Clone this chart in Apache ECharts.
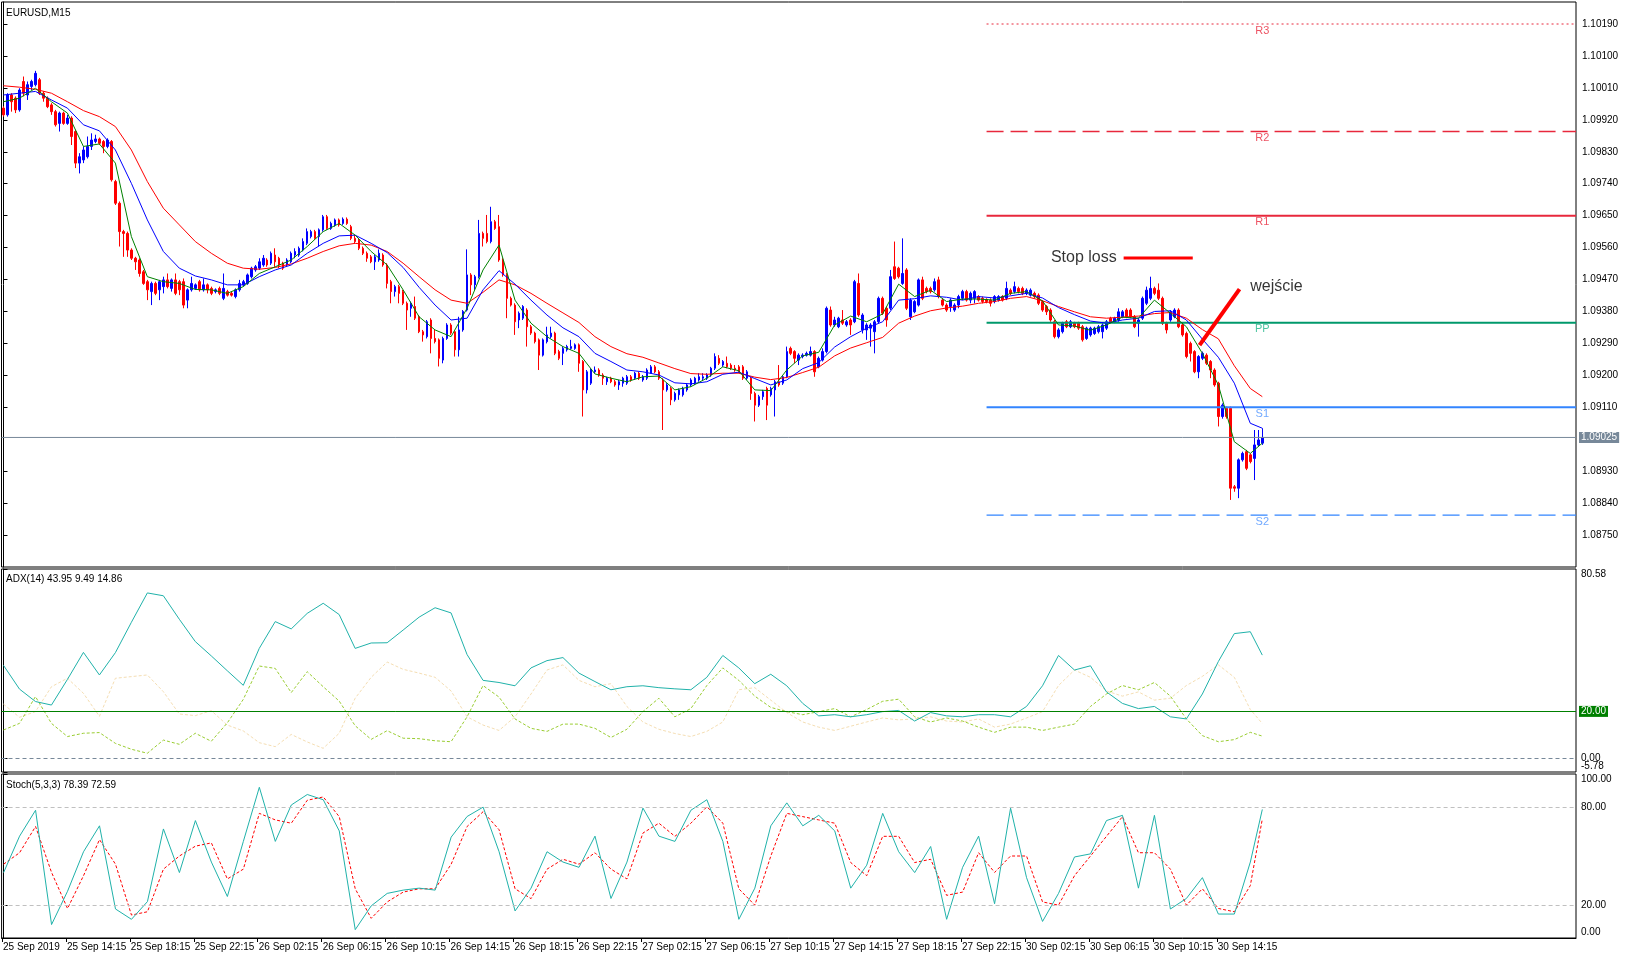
<!DOCTYPE html>
<html>
<head>
<meta charset="utf-8">
<script src="https://cdn.jsdelivr.net/npm/echarts@6/dist/echarts.min.js"></script>
<style>
html, body { margin: 0; padding: 0; background: #fff; }
#chart { width: 1629px; height: 959px; }
</style>
</head>
<body>
<div id="chart"></div>
<script>
// EURUSD M15, 25 Sep 10:15 .. 30 Sep 16:45 -- [open, close, low, high]
var candles = [
[1.09953,1.09934,1.09929,1.09958],[1.09934,1.09990,1.09929,1.09995],[1.09990,1.09971,1.09943,1.09995],[1.09981,1.09948,1.09939,1.09986],
[1.09948,1.10004,1.09943,1.10009],[1.10028,1.09995,1.09986,1.10042],[1.09990,1.10019,1.09976,1.10028],[1.10014,1.10028,1.10004,1.10033],
[1.10019,1.10051,1.10014,1.10058],[1.10033,1.09995,1.09990,1.10038],[1.09995,1.09981,1.09971,1.10000],[1.09981,1.09957,1.09953,1.09986],
[1.09962,1.09943,1.09934,1.09967],[1.09943,1.09906,1.09901,1.09948],[1.09910,1.09939,1.09887,1.09943],[1.09939,1.09910,1.09906,1.09943],
[1.09910,1.09925,1.09906,1.09934],[1.09925,1.09873,1.09849,1.09930],[1.09887,1.09798,1.09784,1.09892],[1.09798,1.09816,1.09769,1.09826],
[1.09807,1.09835,1.09798,1.09845],[1.09816,1.09845,1.09811,1.09873],[1.09845,1.09863,1.09835,1.09882],[1.09859,1.09866,1.09854,1.09878],
[1.09866,1.09854,1.09849,1.09870],[1.09859,1.09845,1.09826,1.09863],[1.09845,1.09863,1.09840,1.09868],[1.09859,1.09751,1.09746,1.09863],
[1.09746,1.09685,1.09680,1.09751],[1.09685,1.09605,1.09563,1.09690],[1.09605,1.09600,1.09534,1.09610],[1.09600,1.09553,1.09534,1.09605],
[1.09553,1.09530,1.09525,1.09558],[1.09530,1.09520,1.09497,1.09534],[1.09525,1.09487,1.09478,1.09530],[1.09492,1.09459,1.09455,1.09497],
[1.09464,1.09441,1.09412,1.09469],[1.09436,1.09459,1.09398,1.09464],[1.09459,1.09431,1.09426,1.09464],[1.09441,1.09464,1.09412,1.09469],
[1.09450,1.09469,1.09431,1.09478],[1.09469,1.09450,1.09445,1.09487],[1.09445,1.09469,1.09436,1.09473],[1.09469,1.09431,1.09426,1.09487],
[1.09464,1.09441,1.09426,1.09469],[1.09464,1.09398,1.09389,1.09473],[1.09412,1.09441,1.09389,1.09445],[1.09441,1.09459,1.09436,1.09478],
[1.09445,1.09455,1.09441,1.09459],[1.09464,1.09441,1.09436,1.09469],[1.09441,1.09455,1.09436,1.09473],[1.09455,1.09441,1.09431,1.09459],
[1.09445,1.09431,1.09426,1.09450],[1.09436,1.09441,1.09431,1.09445],[1.09445,1.09431,1.09426,1.09450],[1.09417,1.09445,1.09412,1.09487],
[1.09436,1.09426,1.09422,1.09441],[1.09431,1.09426,1.09422,1.09436],[1.09422,1.09441,1.09417,1.09445],[1.09441,1.09459,1.09436,1.09469],
[1.09455,1.09464,1.09450,1.09469],[1.09459,1.09483,1.09455,1.09487],[1.09478,1.09502,1.09473,1.09506],[1.09497,1.09506,1.09492,1.09511],
[1.09502,1.09520,1.09497,1.09530],[1.09511,1.09530,1.09506,1.09539],[1.09525,1.09511,1.09506,1.09530],[1.09516,1.09544,1.09511,1.09549],
[1.09539,1.09520,1.09506,1.09558],[1.09530,1.09511,1.09502,1.09534],[1.09516,1.09502,1.09497,1.09520],[1.09511,1.09525,1.09506,1.09530],
[1.09520,1.09544,1.09516,1.09549],[1.09539,1.09549,1.09530,1.09558],[1.09539,1.09558,1.09534,1.09563],[1.09553,1.09577,1.09549,1.09586],
[1.09572,1.09605,1.09567,1.09614],[1.09591,1.09605,1.09586,1.09610],[1.09605,1.09586,1.09582,1.09610],[1.09591,1.09610,1.09563,1.09614],
[1.09610,1.09647,1.09605,1.09652],[1.09647,1.09614,1.09610,1.09652],[1.09614,1.09628,1.09610,1.09633],[1.09624,1.09638,1.09619,1.09642],
[1.09638,1.09624,1.09619,1.09642],[1.09628,1.09640,1.09624,1.09645],[1.09640,1.09628,1.09624,1.09645],[1.09619,1.09586,1.09581,1.09624],
[1.09586,1.09577,1.09572,1.09595],[1.09581,1.09558,1.09553,1.09586],[1.09558,1.09544,1.09539,1.09563],[1.09544,1.09530,1.09520,1.09549],
[1.09534,1.09520,1.09516,1.09539],[1.09520,1.09534,1.09497,1.09539],[1.09525,1.09544,1.09520,1.09555],[1.09539,1.09511,1.09506,1.09544],
[1.09511,1.09459,1.09445,1.09516],[1.09464,1.09436,1.09403,1.09469],[1.09436,1.09450,1.09422,1.09455],[1.09450,1.09431,1.09403,1.09455],
[1.09436,1.09403,1.09398,1.09441],[1.09403,1.09384,1.09328,1.09408],[1.09389,1.09403,1.09365,1.09408],[1.09394,1.09361,1.09356,1.09422],
[1.09365,1.09323,1.09319,1.09370],[1.09323,1.09314,1.09295,1.09328],[1.09309,1.09351,1.09304,1.09356],[1.09356,1.09304,1.09262,1.09361],
[1.09304,1.09295,1.09290,1.09328],[1.09300,1.09248,1.09225,1.09304],[1.09243,1.09304,1.09234,1.09309],[1.09304,1.09342,1.09300,1.09347],
[1.09342,1.09319,1.09314,1.09347],[1.09323,1.09272,1.09253,1.09328],[1.09272,1.09328,1.09253,1.09365],[1.09328,1.09380,1.09323,1.09384],
[1.09384,1.09483,1.09380,1.09555],[1.09483,1.09455,1.09426,1.09488],[1.09455,1.09478,1.09441,1.09483],[1.09478,1.09600,1.09473,1.09638],
[1.09600,1.09586,1.09563,1.09605],[1.09600,1.09577,1.09572,1.09652],[1.09577,1.09633,1.09572,1.09675],[1.09633,1.09614,1.09610,1.09638],
[1.09619,1.09525,1.09520,1.09652],[1.09525,1.09483,1.09478,1.09530],[1.09483,1.09417,1.09361,1.09488],[1.09417,1.09398,1.09394,1.09422],
[1.09398,1.09351,1.09314,1.09403],[1.09356,1.09375,1.09333,1.09380],[1.09361,1.09394,1.09356,1.09398],[1.09384,1.09337,1.09281,1.09389],
[1.09337,1.09319,1.09314,1.09342],[1.09319,1.09295,1.09290,1.09323],[1.09300,1.09257,1.09215,1.09304],[1.09257,1.09300,1.09253,1.09304],
[1.09295,1.09314,1.09290,1.09337],[1.09309,1.09319,1.09304,1.09337],[1.09319,1.09262,1.09257,1.09323],[1.09267,1.09248,1.09243,1.09272],
[1.09262,1.09276,1.09229,1.09281],[1.09272,1.09281,1.09267,1.09286],[1.09276,1.09281,1.09272,1.09300],[1.09276,1.09286,1.09272,1.09290],
[1.09286,1.09234,1.09210,1.09290],[1.09239,1.09159,1.09084,1.09243],[1.09159,1.09210,1.09149,1.09215],[1.09178,1.09215,1.09173,1.09220],
[1.09210,1.09215,1.09206,1.09225],[1.09215,1.09201,1.09196,1.09220],[1.09201,1.09192,1.09173,1.09206],[1.09182,1.09192,1.09173,1.09196],
[1.09192,1.09182,1.09178,1.09196],[1.09182,1.09173,1.09168,1.09187],[1.09173,1.09182,1.09159,1.09187],[1.09178,1.09192,1.09168,1.09196],
[1.09178,1.09196,1.09173,1.09201],[1.09196,1.09187,1.09182,1.09201],[1.09192,1.09206,1.09187,1.09210],[1.09206,1.09192,1.09187,1.09210],
[1.09187,1.09196,1.09182,1.09201],[1.09192,1.09215,1.09187,1.09220],[1.09206,1.09224,1.09210,1.09229],[1.09224,1.09210,1.09206,1.09229],
[1.09210,1.09192,1.09187,1.09215],[1.09187,1.09159,1.09046,1.09192],[1.09159,1.09173,1.09154,1.09178],[1.09163,1.09131,1.09116,1.09168],
[1.09131,1.09149,1.09126,1.09154],[1.09145,1.09159,1.09131,1.09163],[1.09145,1.09163,1.09140,1.09168],[1.09159,1.09173,1.09154,1.09178],
[1.09173,1.09187,1.09168,1.09192],[1.09178,1.09192,1.09173,1.09196],[1.09187,1.09196,1.09182,1.09206],[1.09192,1.09196,1.09187,1.09206],
[1.09192,1.09201,1.09187,1.09206],[1.09201,1.09220,1.09196,1.09224],[1.09220,1.09253,1.09215,1.09262],[1.09248,1.09234,1.09229,1.09257],
[1.09229,1.09239,1.09224,1.09243],[1.09234,1.09224,1.09220,1.09253],[1.09229,1.09220,1.09215,1.09234],[1.09220,1.09215,1.09210,1.09229],
[1.09224,1.09210,1.09206,1.09229],[1.09224,1.09192,1.09187,1.09229],[1.09192,1.09210,1.09187,1.09215],[1.09192,1.09149,1.09131,1.09196],
[1.09149,1.09116,1.09070,1.09154],[1.09116,1.09140,1.09111,1.09145],[1.09140,1.09154,1.09131,1.09159],[1.09163,1.09116,1.09074,1.09168],
[1.09145,1.09163,1.09140,1.09168],[1.09159,1.09182,1.09084,1.09187],[1.09182,1.09173,1.09168,1.09229],[1.09178,1.09196,1.09173,1.09201],
[1.09196,1.09267,1.09192,1.09281],[1.09276,1.09262,1.09257,1.09281],[1.09267,1.09248,1.09234,1.09271],[1.09243,1.09257,1.09229,1.09262],
[1.09253,1.09257,1.09248,1.09262],[1.09257,1.09262,1.09253,1.09267],[1.09257,1.09267,1.09253,1.09281],[1.09267,1.09210,1.09196,1.09271],
[1.09224,1.09248,1.09220,1.09253],[1.09243,1.09267,1.09239,1.09276],[1.09267,1.09389,1.09262,1.09394],[1.09384,1.09342,1.09337,1.09394],
[1.09342,1.09356,1.09337,1.09365],[1.09337,1.09361,1.09333,1.09365],[1.09356,1.09347,1.09342,1.09384],[1.09342,1.09351,1.09337,1.09356],
[1.09356,1.09342,1.09314,1.09361],[1.09351,1.09464,1.09347,1.09469],[1.09459,1.09370,1.09365,1.09487],[1.09328,1.09370,1.09318,1.09375],
[1.09328,1.09342,1.09300,1.09347],[1.09333,1.09342,1.09281,1.09347],[1.09323,1.09351,1.09262,1.09356],[1.09351,1.09417,1.09347,1.09422],
[1.09417,1.09375,1.09370,1.09422],[1.09389,1.09356,1.09337,1.09394],[1.09389,1.09478,1.09384,1.09497],[1.09506,1.09473,1.09469,1.09577],
[1.09502,1.09478,1.09473,1.09506],[1.09459,1.09487,1.09455,1.09586],[1.09497,1.09389,1.09384,1.09502],[1.09365,1.09412,1.09356,1.09417],
[1.09379,1.09408,1.09375,1.09412],[1.09398,1.09469,1.09394,1.09473],[1.09469,1.09417,1.09412,1.09478],[1.09445,1.09436,1.09431,1.09450],
[1.09445,1.09436,1.09431,1.09450],[1.09441,1.09464,1.09436,1.09473],[1.09469,1.09422,1.09417,1.09478],[1.09412,1.09398,1.09394,1.09417],
[1.09398,1.09384,1.09379,1.09403],[1.09394,1.09412,1.09379,1.09417],[1.09384,1.09398,1.09379,1.09403],[1.09398,1.09422,1.09389,1.09427],
[1.09417,1.09436,1.09412,1.09441],[1.09436,1.09412,1.09408,1.09441],[1.09412,1.09431,1.09403,1.09436],[1.09417,1.09436,1.09403,1.09440],
[1.09422,1.09412,1.09408,1.09426],[1.09417,1.09408,1.09403,1.09422],[1.09414,1.09408,1.09403,1.09417],[1.09412,1.09403,1.09394,1.09417],
[1.09408,1.09422,1.09403,1.09426],[1.09412,1.09422,1.09408,1.09426],[1.09422,1.09412,1.09408,1.09426],[1.09417,1.09445,1.09412,1.09464],
[1.09440,1.09431,1.09426,1.09445],[1.09436,1.09450,1.09431,1.09464],[1.09445,1.09436,1.09431,1.09450],[1.09445,1.09431,1.09426,1.09450],
[1.09431,1.09440,1.09426,1.09445],[1.09426,1.09440,1.09422,1.09445],[1.09431,1.09422,1.09417,1.09436],[1.09426,1.09403,1.09398,1.09431],
[1.09408,1.09384,1.09379,1.09412],[1.09394,1.09379,1.09370,1.09398],[1.09384,1.09356,1.09351,1.09389],[1.09351,1.09309,1.09304,1.09356],
[1.09309,1.09328,1.09304,1.09333],[1.09323,1.09347,1.09318,1.09351],[1.09351,1.09337,1.09333,1.09356],[1.09337,1.09351,1.09333,1.09356],
[1.09347,1.09337,1.09333,1.09351],[1.09347,1.09333,1.09328,1.09351],[1.09337,1.09300,1.09295,1.09342],[1.09304,1.09333,1.09300,1.09337],
[1.09314,1.09333,1.09309,1.09337],[1.09318,1.09333,1.09314,1.09337],[1.09323,1.09337,1.09318,1.09342],[1.09323,1.09342,1.09304,1.09347],
[1.09333,1.09351,1.09328,1.09356],[1.09361,1.09351,1.09347,1.09365],[1.09351,1.09361,1.09347,1.09365],[1.09356,1.09379,1.09351,1.09389],
[1.09365,1.09379,1.09361,1.09384],[1.09384,1.09365,1.09361,1.09389],[1.09384,1.09365,1.09361,1.09389],[1.09365,1.09337,1.09333,1.09370],
[1.09347,1.09356,1.09309,1.09361],[1.09361,1.09417,1.09356,1.09422],[1.09403,1.09440,1.09398,1.09450],[1.09417,1.09445,1.09412,1.09478],
[1.09445,1.09431,1.09426,1.09450],[1.09440,1.09417,1.09412,1.09459],[1.09417,1.09347,1.09342,1.09422],[1.09347,1.09328,1.09318,1.09351],
[1.09356,1.09379,1.09351,1.09384],[1.09365,1.09384,1.09361,1.09389],[1.09384,1.09337,1.09333,1.09389],[1.09342,1.09314,1.09309,1.09347],
[1.09318,1.09253,1.09248,1.09323],[1.09290,1.09262,1.09239,1.09295],[1.09267,1.09210,1.09206,1.09271],[1.09210,1.09253,1.09192,1.09257],
[1.09248,1.09262,1.09243,1.09267],[1.09257,1.09234,1.09229,1.09262],[1.09239,1.09215,1.09192,1.09243],[1.09215,1.09173,1.09168,1.09220],
[1.09178,1.09084,1.09056,1.09182],[1.09084,1.09116,1.09078,1.09121],[1.09107,1.09084,1.09078,1.09112],[1.09107,1.08882,1.08849,1.09112],
[1.08886,1.08882,1.08872,1.08891],[1.08882,1.08962,1.08854,1.08966],[1.08962,1.08980,1.08957,1.08985],[1.08985,1.08938,1.08933,1.08990],
[1.08976,1.08957,1.08952,1.08980],[1.08966,1.09004,1.08905,1.09046],[1.09004,1.09018,1.08999,1.09046],[1.09009,1.09025,1.09004,1.09051]
];

// moving averages, read every 4 bars (last value = last bar)
var maGreen = [1.09971,1.09981,1.10009,1.09971,1.09939,1.09845,1.09852,1.09798,1.09591,1.09478,1.09464,1.09459,1.09442,1.09441,1.09431,1.09450,1.09487,1.09506,1.09525,1.09563,1.09605,
  1.09628,1.09595,1.09549,1.09511,1.09441,1.09365,1.09328,1.09309,1.09389,1.09497,1.09567,1.09412,1.09347,1.09309,1.09281,1.09262,1.09204,1.09192,1.09182,1.09196,
  1.09198,1.09159,1.09168,1.09192,1.09224,1.09213,1.09159,1.09157,1.09215,1.09255,1.09265,1.09342,1.09367,1.09351,1.09373,1.09457,1.09422,1.09440,1.09408,1.09415,
  1.09415,1.09412,1.09431,1.09436,1.09410,1.09342,1.09339,1.09327,1.09342,1.09364,1.09361,1.09412,1.09375,1.09337,1.09262,1.09173,1.09013,1.08980,1.09009];
var maBlue = [1.09990,1.09995,1.10000,1.09976,1.09953,1.09906,1.09889,1.09835,1.09741,1.09638,1.09549,1.09502,1.09480,1.09469,1.09455,1.09455,1.09478,1.09497,1.09511,1.09544,1.09572,
  1.09593,1.09595,1.09572,1.09546,1.09504,1.09448,1.09398,1.09356,1.09361,1.09441,1.09495,1.09457,1.09412,1.09370,1.09334,1.09309,1.09262,1.09239,1.09215,1.09210,
  1.09201,1.09179,1.09176,1.09182,1.09203,1.09209,1.09191,1.09173,1.09187,1.09219,1.09236,1.09280,1.09309,1.09333,1.09351,1.09412,1.09416,1.09424,1.09420,1.09412,
  1.09422,1.09418,1.09424,1.09431,1.09418,1.09391,1.09371,1.09353,1.09347,1.09356,1.09361,1.09380,1.09382,1.09356,1.09302,1.09251,1.09178,1.09065,1.09051];
var maRed = [1.10016,1.10012,1.10006,1.09995,1.09971,1.09946,1.09929,1.09901,1.09835,1.09746,1.09671,1.09624,1.09577,1.09544,1.09516,1.09502,1.09499,1.09504,1.09514,1.09530,1.09549,
  1.09565,1.09572,1.09567,1.09549,1.09516,1.09478,1.09441,1.09412,1.09403,1.09434,1.09469,1.09455,1.09431,1.09403,1.09376,1.09349,1.09309,1.09281,1.09261,1.09251,
  1.09235,1.09219,1.09205,1.09203,1.09206,1.09206,1.09195,1.09188,1.09194,1.09208,1.09223,1.09255,1.09277,1.09292,1.09307,1.09347,1.09367,1.09382,1.09390,1.09395,
  1.09403,1.09408,1.09417,1.09422,1.09410,1.09394,1.09379,1.09365,1.09361,1.09364,1.09367,1.09374,1.09377,1.09361,1.09329,1.09303,1.09227,1.09163,1.09140];

// ADX(14), read every 4 bars (last value = last bar)
var adxMain = [39.6,29.5,24.2,22.7,33.6,45.1,35.5,45.0,57.9,70.4,69.2,59.2,49.7,43.6,37.3,31.1,46.8,58.2,55.1,61.7,
  66.0,61.2,46.8,49.1,49.2,54.6,60.1,64.1,61.9,44.2,33.2,32.3,30.9,38.5,41.6,42.9,36.3,32.7,29.2,30.5,
  30.9,30.1,29.6,29.2,34.5,43.8,38.5,31.8,35.8,30.9,23.4,18.1,18.6,17.7,18.6,19.9,20.4,15.9,19.5,18.1,
  17.7,18.6,18.6,17.7,22.1,30.9,43.8,37.6,39.4,28.3,23.4,21.2,22.1,17.7,16.8,27.4,41.2,53.1,53.9,43.95];
var adxPlus = [12.1,14.9,26.3,14.9,9.3,10.7,11.0,6.4,3.9,2.2,7.8,6.0,10.7,7.3,15.1,25.1,39.3,38.3,28.0,36.9,
  30.5,24.4,13.9,8.1,11.8,8.6,8.4,7.5,7.1,17.7,31.0,26.1,16.8,12.8,11.5,14.6,14.6,12.8,8.9,12.4,
  19.9,25.6,17.7,21.2,31.0,38.5,33.2,26.5,21.7,19.9,18.6,19.9,21.2,17.7,20.8,24.3,25.2,17.7,15.5,17.2,
  15.9,13.3,11.1,13.3,13.3,11.9,13.3,14.6,22.1,27.4,31.0,29.2,32.3,26.5,16.8,9.7,7.1,8.0,11.1,9.49];
var adxMinus = [23.1,17.5,19.9,30.5,34.1,27.7,17.9,34.1,34.8,35.5,28.4,18.9,18.2,20.3,14.2,11.7,6.7,5.0,10.2,7.0,
  4.3,10.7,25.6,34.5,41.0,37.9,36.3,34.5,28.7,17.7,14.2,11.9,17.7,27.4,37.6,39.8,33.2,30.5,31.8,22.1,
  15.5,12.4,10.6,9.3,11.5,15.5,29.2,30.1,24.8,19.5,15.5,13.3,11.9,13.7,15.5,17.2,16.4,16.8,17.7,15.9,
  15.5,16.8,13.3,14.6,17.2,19.9,31.0,37.6,34.5,28.7,26.5,28.3,24.8,25.6,31.0,34.9,39.8,34.5,20.8,14.86];

// Stoch(5,3,3), read every 4 bars
var stochMain = [39.9,62.1,77.9,8.2,28.5,52.6,68.4,17.7,11.4,22.2,66.5,39.9,71.6,46.3,25.3,58.9,91.9,58.9,81.1,87.5,84.3,65.3,5.1,19.6,27.2,29.2,30.4,29.2,61.5,74.1,
  79.8,52.6,16.5,30.4,52.6,46.3,43.1,62.1,24.1,46.3,79.2,62.1,58.9,77.9,84.3,58.9,11.4,30.4,68.4,82.4,68.4,74.8,65.3,30.4,44.4,76.0,52.6,39.9,55.8,11.4,
  43.1,62.1,20.9,79.2,36.8,10.1,27.2,49.4,51.3,71.6,74.8,30.4,74.8,17.7,24.1,36.8,14.6,14.6,46.3,78.39];
var stochSignal = [45,52,68,40,18,38,60,45,14,16,42,50,56,58,36,42,76,72,70,84,86,74,30,12,22,28,30,30,45,68,
  77,66,30,24,42,48,45,52,42,36,64,70,62,70,80,70,30,20,50,76,74,72,70,46,38,62,62,46,48,26,
  28,52,40,50,50,22,20,38,50,62,74,52,52,42,20,30,18,16,32,72.59];

var timeLabels = ['25 Sep 2019','25 Sep 14:15','25 Sep 18:15','25 Sep 22:15','26 Sep 02:15','26 Sep 06:15','26 Sep 10:15',
  '26 Sep 14:15','26 Sep 18:15','26 Sep 22:15','27 Sep 02:15','27 Sep 06:15','27 Sep 10:15','27 Sep 14:15','27 Sep 18:15',
  '27 Sep 22:15','30 Sep 02:15','30 Sep 06:15','30 Sep 10:15','30 Sep 14:15'];
// 1.09020 sits under the last-price box, MT5 drops it
var priceTicks = [1.08750,1.08840,1.08930,1.09110,1.09200,1.09290,1.09380,1.09470,1.09560,1.09650,1.09740,1.09830,1.09920,1.10010,1.10100,1.10190];

var levelNames = ['R3','R2','R1','PP','S1','S2'];
var levelPrices = [1.10190,1.09887,1.09650,1.09348,1.09110,1.08806];
var levelStart = 246;
var lastPrice = 1.09025;

var slots = 394, lastBar = candles.length - 1;
var FONT = 'Liberation Sans';

function placed(vals, step) {
    return vals.map(function (v, i) { return [i < vals.length - 1 ? i * step : lastBar, v]; });
}

var cats = [];
for (var i = 0; i < slots; i++) cats.push(String(i));
var timeTicks = timeLabels.map(function (t, j) { return j * 16 - 0.4; });

var levelStyle = {
    R3: {color: '#e8283c', type: [2, 3], width: 1, label: '#e8283c'},
    R2: {color: '#e8283c', type: [17, 7], width: 1.5, label: '#e8283c'},
    R1: {color: '#e8283c', type: 'solid', width: 2, label: '#e8283c'},
    PP: {color: '#00996b', type: 'solid', width: 2, label: '#1fb589'},
    S1: {color: '#3385ff', type: 'solid', width: 2, label: '#4d94ff'},
    S2: {color: '#3385ff', type: [17, 7], width: 1.2, label: '#4d94ff'}
};

var series = [];

// last price line across the whole panel
series.push({
    type: 'line', xAxisIndex: 1, yAxisIndex: 0, silent: true, symbol: 'none',
    data: [[-0.5, lastPrice], [slots - 0.5, lastPrice]],
    lineStyle: {color: '#778899', width: 1},
    endLabel: {show: true, distance: 3, formatter: lastPrice.toFixed(5), color: '#fff',
        backgroundColor: '#778899', padding: [1, 2, 0, 2], fontSize: 10, fontFamily: FONT}
});

levelNames.forEach(function (n, j) {
    var st = levelStyle[n];
    series.push({
        type: 'line', xAxisIndex: 1, yAxisIndex: 0, silent: true, symbol: 'none',
        data: [[levelStart, levelPrices[j]], [slots - 0.5, levelPrices[j]]],
        lineStyle: {color: st.color, width: st.width, type: st.type}
    });
});

series.push({
    type: 'scatter', xAxisIndex: 1, yAxisIndex: 0, silent: true, symbolSize: 0,
    data: levelNames.map(function (n, j) {
        return {value: [lastBar, levelPrices[j]], name: n, label: {color: levelStyle[n].label}};
    }),
    label: {show: true, position: 'bottom', distance: 1, formatter: '{b}', fontSize: 11, fontFamily: FONT}
});

series.push({
    type: 'candlestick', xAxisIndex: 0, yAxisIndex: 0, data: candles, barWidth: 2,
    itemStyle: {color: '#0000ff', color0: '#ff0000', borderColor: '#0000ff', borderColor0: '#ff0000', borderWidth: 1}
});

[[maRed, '#ff0000'], [maBlue, '#0000ff'], [maGreen, '#008000']].forEach(function (m) {
    series.push({type: 'line', xAxisIndex: 1, yAxisIndex: 0, silent: true, symbol: 'none',
        data: placed(m[0], 4), lineStyle: {color: m[1], width: 1}});
});

// drawn objects
series.push({type: 'line', xAxisIndex: 1, yAxisIndex: 0, silent: true, symbol: 'none',
    data: [[280.3, 1.09531], [297.6, 1.09531]], lineStyle: {color: '#ff0000', width: 3}});
series.push({type: 'line', xAxisIndex: 1, yAxisIndex: 0, silent: true, symbol: 'none',
    data: [[299.3, 1.09285], [309.3, 1.09443]], lineStyle: {color: '#ff0000', width: 4}});
series.push({
    type: 'scatter', xAxisIndex: 1, yAxisIndex: 0, silent: true, symbolSize: 0,
    data: [{value: [262.1, 1.09533], name: 'Stop loss'}, {value: [312.0, 1.09449], name: 'wejście'}],
    label: {show: true, position: 'right', distance: 0, formatter: '{b}', fontSize: 16, color: '#000', fontFamily: FONT}
});

// ADX
series.push({type: 'line', xAxisIndex: 2, yAxisIndex: 1, silent: true, symbol: 'none',
    data: placed(adxMinus, 4), lineStyle: {color: '#f5deb3', width: 1, type: [3, 2]}});
series.push({type: 'line', xAxisIndex: 2, yAxisIndex: 1, silent: true, symbol: 'none',
    data: placed(adxPlus, 4), lineStyle: {color: '#9acd32', width: 1, type: [3, 2]}});
series.push({type: 'line', xAxisIndex: 2, yAxisIndex: 1, silent: true, symbol: 'none',
    data: placed(adxMain, 4), lineStyle: {color: '#20b2aa', width: 1},
    markLine: {
        silent: true, symbol: 'none', animation: false,
        data: [
            {yAxis: 20, lineStyle: {color: '#008000', width: 1, type: 'solid'},
             label: {show: true, position: 'end', distance: 3, formatter: '20.00', color: '#fff', backgroundColor: '#008000',
                 padding: [1, 2, 0, 2], fontSize: 10, fontFamily: FONT}},
            {yAxis: 0, lineStyle: {color: '#778899', width: 1, type: [4, 3]},
             label: {show: true, position: 'end', distance: 5, formatter: '0.00', color: '#000', fontSize: 10, fontFamily: FONT}}
        ]
    }});

// Stochastic
series.push({type: 'line', xAxisIndex: 3, yAxisIndex: 2, silent: true, symbol: 'none',
    data: placed(stochSignal, 4), lineStyle: {color: '#ff0000', width: 1, type: [3, 2]},
    markLine: {
        silent: true, symbol: 'none', animation: false, label: {show: false},
        lineStyle: {color: '#c0c0c0', width: 1, type: [4, 3]},
        data: [{yAxis: 80}, {yAxis: 20}]
    }});
series.push({type: 'line', xAxisIndex: 3, yAxisIndex: 2, silent: true, symbol: 'none',
    data: placed(stochMain, 4), lineStyle: {color: '#20b2aa', width: 1}});

var axisText = {color: '#000', fontSize: 10, fontFamily: FONT};
function edgeRich() {
    return {
        top: {padding: [11, 0, 0, 0], color: '#000', fontSize: 10, fontFamily: FONT},
        bot: {padding: [0, 0, 11, 0], color: '#000', fontSize: 10, fontFamily: FONT}
    };
}
function valueX(grid) {
    return {type: 'value', gridIndex: grid, min: -0.5, max: slots - 0.5, show: false};
}
function titleAt(text, top) {
    return {text: text, left: 6, top: top, padding: 0,
        textStyle: {fontSize: 10, fontWeight: 'normal', color: '#000', fontFamily: FONT}};
}

var chart = echarts.init(document.getElementById('chart'), null, {renderer: 'canvas'});
chart.setOption({
    animation: false,
    backgroundColor: '#fff',
    title: [
        titleAt('EURUSD,M15', 8),
        titleAt('ADX(14) 43.95 9.49 14.86', 574),
        titleAt('Stoch(5,3,3) 78.39 72.59', 780)
    ],
    grid: [
        {left: 1.5, right: 53, top: 2, height: 565, show: true, borderColor: '#000', borderWidth: 1, backgroundColor: '#fff'},
        {left: 1.5, right: 53, top: 569, height: 203, show: true, borderColor: '#000', borderWidth: 1, backgroundColor: '#fff'},
        {left: 1.5, right: 53, top: 774, height: 164, show: true, borderColor: '#000', borderWidth: 1, backgroundColor: '#fff'}
    ],
    xAxis: [
        {type: 'category', gridIndex: 0, data: cats, show: false, boundaryGap: true},
        valueX(0),
        valueX(1),
        {type: 'value', gridIndex: 2, min: -0.5, max: slots - 0.5, splitLine: {show: false},
            axisLine: {show: true, lineStyle: {color: '#000'}},
            axisTick: {show: true, length: 4, customValues: timeTicks, lineStyle: {color: '#000'}},
            axisLabel: {customValues: timeTicks, align: 'left', margin: 4, padding: [0, 0, 0, 1],
                color: '#000', fontSize: 10, fontFamily: FONT,
                formatter: function (v) { return timeLabels[Math.round((v + 0.4) / 16)] || ''; }}}
    ],
    yAxis: [
        {type: 'value', gridIndex: 0, position: 'right', min: 1.08660, max: 1.10252, scale: true,
            splitLine: {show: false}, axisLine: {show: true, lineStyle: {color: '#000'}},
            axisTick: {show: true, length: 4, customValues: priceTicks, lineStyle: {color: '#000'}},
            axisLabel: Object.assign({customValues: priceTicks, margin: 6,
                formatter: function (v) { return v.toFixed(5); }}, axisText)},
        {type: 'value', gridIndex: 1, position: 'right', min: -5.78, max: 80.58,
            splitLine: {show: false}, axisLine: {show: true, lineStyle: {color: '#000'}},
            axisTick: {show: true, length: 4, customValues: [-5.78, 0, 80.58], lineStyle: {color: '#000'}},
            axisLabel: Object.assign({customValues: [-5.78, 80.58], margin: 5, rich: edgeRich(),
                showMinLabel: true, showMaxLabel: true,
                formatter: function (v) {
                    return v > 0 ? '{top|80.58}' : '{bot|-5.78}';
                }}, axisText)},
        {type: 'value', gridIndex: 2, position: 'right', min: 0, max: 100,
            splitLine: {show: false}, axisLine: {show: true, lineStyle: {color: '#000'}},
            axisTick: {show: true, length: 4, customValues: [0, 20, 80, 100], lineStyle: {color: '#000'}},
            axisLabel: Object.assign({customValues: [0, 20, 80, 100], margin: 5, rich: edgeRich(),
                showMinLabel: true, showMaxLabel: true,
                formatter: function (v) {
                    if (v === 100) return '{top|100.00}';
                    if (v === 0) return '{bot|0.00}';
                    return v.toFixed(2);
                }}, axisText)}
    ],
    series: series
});
</script>
</body>
</html>
